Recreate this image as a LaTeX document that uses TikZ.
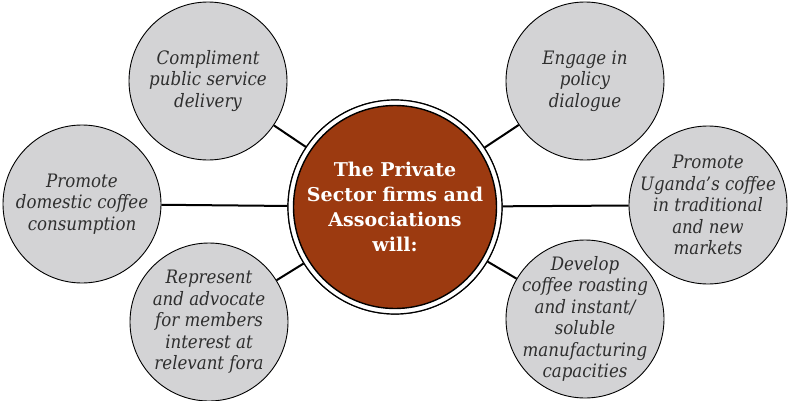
\documentclass[tikz,border=0pt]{standalone}
\usepackage{fontspec}
\setmainfont{DejaVu Serif}
\newfontfamily\condfont{DejaVu Serif Condensed}
\definecolor{bubble}{HTML}{D3D3D5}
\definecolor{rust}{HTML}{9C3A10}
\definecolor{txt}{HTML}{2E2E2E}
\begin{document}
\begin{tikzpicture}[x=1pt,y=-1pt,
  bub/.style={circle,draw=black,line width=0.9pt,fill=bubble,minimum size=158pt,inner sep=0pt},
  btxt/.style={align=center,text=txt,inner sep=0pt,font=\condfont\itshape\fontsize{18.5}{21.5}\selectfont},
  link/.style={line width=2pt,black}]
\useasboundingbox (0,0) rectangle (788,400);
\node[bub] (tl) at (208,81) {};
\node[bub] (l) at (82,204) {};
\node[bub] (bl) at (209,322) {};
\node[bub] (tr) at (585,81) {};
\node[bub] (r) at (708,205) {};
\node[bub] (br) at (585,319) {};
\node[btxt] (tlt) at (tl) {Compliment\\public service\\delivery};
\node[btxt] (lt) at (l) {Promote\\domestic coffee\\consumption};
\node[btxt] (blt) at (bl) {Represent\\and advocate\\for members\\interest at\\relevant fora};
\node[btxt] (trt) at (tr) {Engage in\\policy\\dialogue};
\node[btxt] (rt) at (r) {Promote\\Uganda’s coffee\\in traditional\\and new\\markets};
\node[btxt] (brt) at (br) {Develop\\coffee roasting\\and instant/\\soluble\\manufacturing\\capacities};
\node[circle,draw=black,line width=1.2pt,minimum size=214pt,inner sep=0pt] (c) at (395,207) {};
\foreach \n in {tl,l,bl,tr,r,br} \draw[link] (c) -- (\n);
\node[circle,draw=black,line width=1.2pt,fill=white,minimum size=214pt,inner sep=0pt] (cw) at (c) {};
\node[circle,draw=black,line width=1.4pt,fill=rust,minimum size=203pt,inner sep=0pt,
  text=white,align=center,font=\bfseries\fontsize{19}{25}\selectfont] (ct) at (c)
  {The Private\\Sector firms and\\Associations\\will:};
\end{tikzpicture}
\end{document}
